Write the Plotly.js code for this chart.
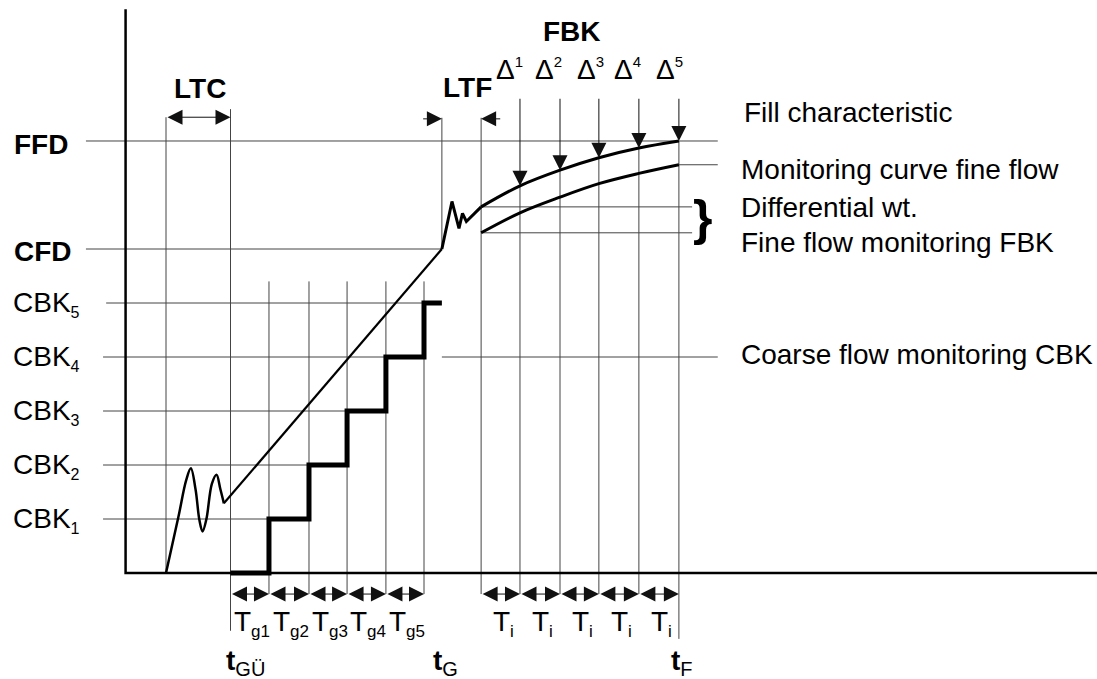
<!DOCTYPE html>
<html>
<head>
<meta charset="utf-8">
<script src="https://cdn.plot.ly/plotly-3.0.1.min.js"></script>
<style>html,body{margin:0;padding:0;background:#fff;}#chart{width:1097px;height:679px;}</style>
</head>
<body>
<div id="chart"></div>
<script>
// ---- data (x: time units, y: weight units, CBK step = 1) ----
const cbkLevels = [1, 2, 3, 4, 5];
const cbkSubs = ['1', '2', '3', '4', '5'];
const CFD = 6;
const FFD = 8;
const fillStart = 1.04;                 // start of filling
const coarseTimes = [2.70, 3.69, 4.72, 5.70, 6.70, 7.68]; // tGÜ and coarse check times
const tG = 8.14;
const fineTimes = [9.15, 10.15, 11.18, 12.18, 13.21, 14.24]; // fine check times, last = tF
const fillCurve = [6.78, 7.17, 7.46, 7.69, 7.87, 8.00];
const monitorCurve = [6.30, 6.67, 6.96, 7.21, 7.40, 7.56];
const coarseSettleX = [1.04, 1.36, 1.56, 1.68, 1.80, 1.90, 1.98, 2.08, 2.22, 2.34, 2.44, 2.53];
const coarseSettleY = [0, 1.04, 1.72, 1.94, 1.55, 0.98, 0.77, 1.00, 1.65, 1.82, 1.55, 1.29];
const fineSettleX = [8.14, 8.40, 8.58, 8.67, 8.77, 9.15];
const fineSettleY = [6.00, 6.88, 6.38, 6.66, 6.51, 6.78];
const tgSubs = ['g1', 'g2', 'g3', 'g4', 'g5'];
const tiSub = 'i';
const deltaSups = ['1', '2', '3', '4', '5'];
const deltaX = [9.48, 10.49, 11.57, 12.52, 13.60];
const rightLabels = ['Fill characteristic', 'Monitoring curve fine flow', 'Differential wt.', 'Fine flow monitoring FBK', 'Coarse flow monitoring CBK'];
const rightLabelY = [8.53, 7.48, 6.77, 6.12, 4.04];

// ---- layout constants ----
const FONT = 'Liberation Sans, Arial, sans-serif';
const xLeft = -1.02, xRight = 15.24, xBrace = 14.58;
const arrowY = 8.44, dimY = -0.39, deltaTop = 8.81;
function sub(s, px) { return '<sub><span style="font-size:' + (px || 17) + 'px">' + s + '</span></sub>'; }
function sup(s, px) { return '<sup><span style="font-size:' + (px || 16) + 'px">' + s + '</span></sup>'; }

const thinX = [], thinY = [];
function seg(x0, y0, x1, y1) { thinX.push(x0, x1, null); thinY.push(y0, y1, null); }

// horizontal reference lines
seg(xLeft, FFD, xRight, FFD);
seg(xLeft, CFD, tG, CFD);
cbkLevels.forEach((k, i) => seg(k === 5 ? -0.50 : -0.58, k, coarseTimes[i + 1], k));
seg(tG, 4, xRight, 4);
seg(fineTimes[0], fillCurve[0], xBrace, fillCurve[0]);
seg(fineTimes[0], monitorCurve[0], xBrace, monitorCurve[0]);
seg(fineTimes[5], monitorCurve[5], xRight, monitorCurve[5]);
// vertical lines
seg(fillStart, 0, fillStart, arrowY);
seg(coarseTimes[0], -1.07, coarseTimes[0], 8.59);
for (let i = 1; i < coarseTimes.length; i++) seg(coarseTimes[i], dimY, coarseTimes[i], 5.4);
seg(tG, CFD, tG, 8.43);
seg(fineTimes[0], dimY, fineTimes[0], 8.43);
for (let i = 1; i < fineTimes.length - 1; i++) seg(fineTimes[i], dimY, fineTimes[i], fillCurve[i]);
seg(fineTimes[5], -1.22, fineTimes[5], fillCurve[5]);

const black = '#000';
const traces = [
  {x: thinX, y: thinY, mode: 'lines', line: {color: '#444', width: 1}, hoverinfo: 'skip'},
  // axes
  {x: [0, 0, 25], y: [10.44, 0, 0], mode: 'lines', line: {color: black, width: 2.5}, hoverinfo: 'skip'},
  // coarse settling
  {x: coarseSettleX, y: coarseSettleY, mode: 'lines', line: {color: black, width: 2.5, shape: 'spline', smoothing: 1}, hoverinfo: 'skip'},
  {x: [coarseSettleX[coarseSettleX.length - 1], tG], y: [coarseSettleY[coarseSettleY.length - 1], CFD], mode: 'lines', line: {color: black, width: 2.2}, hoverinfo: 'skip'},
  // fine settling
  {x: fineSettleX, y: fineSettleY, mode: 'lines', line: {color: black, width: 3}, hoverinfo: 'skip'},
  // fill characteristic & monitoring curve
  {x: fineTimes, y: fillCurve, mode: 'lines', line: {color: black, width: 3, shape: 'spline', smoothing: 1}, hoverinfo: 'skip'},
  {x: fineTimes, y: monitorCurve, mode: 'lines', line: {color: black, width: 3, shape: 'spline', smoothing: 1}, hoverinfo: 'skip'},
  // coarse-flow staircase
  {x: coarseTimes.concat([tG]), y: [0].concat(cbkLevels, [5]), mode: 'lines', line: {color: black, width: 5, shape: 'hv'}, hoverinfo: 'skip'}
];

const ann = [];
function txt(x, y, text, size, xanchor, bold, yanchor) {
  ann.push({x: x, y: y, xref: 'x', yref: 'y', text: bold ? '<b>' + text + '</b>' : text, showarrow: false,
    xanchor: xanchor || 'center', yanchor: yanchor || 'middle', font: {family: FONT, size: size || 28, color: black}});
}
function arrow(x0, y0, x1, y1, both) {
  ann.push({x: x1, y: y1, ax: x0, ay: y0, xref: 'x', yref: 'y', axref: 'x', ayref: 'y', text: '', showarrow: true,
    arrowhead: 2, arrowsize: 3, arrowwidth: 1, arrowcolor: '#111', arrowside: both ? 'end+start' : 'end',
    startarrowhead: 2, startarrowsize: 3, standoff: 0, startstandoff: 0});
}

// left labels
txt(-2.93, 7.93, 'FFD', 28, 'left', true);
txt(-2.93, 5.96, 'CFD', 28, 'left', true);
cbkLevels.forEach((k, i) => txt(-2.95, k - 0.02, 'CBK' + sub(cbkSubs[i], 16), 28, 'left'));
// top labels
txt(1.91, 8.98, 'LTC', 28, 'center', true);
txt(8.81, 8.99, 'LTF', 28, 'center', true);
txt(11.49, 10.02, 'FBK', 28, 'center', true);
deltaSups.forEach((d, i) => txt(deltaX[i], 9.33, 'Δ' + sup(d, 15), 28, 'left'));
// right labels
rightLabels.forEach((t, i) => txt(i === 0 ? 15.86 : 15.78, rightLabelY[i], t, 28, 'left'));
txt(14.86, 6.58, '<b>}</b>', 50, 'center');
// bottom labels
for (let i = 0; i < 5; i++) txt((coarseTimes[i] + coarseTimes[i + 1]) / 2 + 0.05, -0.94, 'T' + sub(tgSubs[i], 17), 28, 'center');
for (let i = 0; i < 5; i++) txt((fineTimes[i] + fineTimes[i + 1]) / 2 + 0.07, -0.94, 'T' + sub(tiSub, 17), 28, 'center');
txt(3.08, -1.66, '<b>t</b>' + sub('GÜ', 20), 28, 'center');
txt(8.23, -1.66, '<b>t</b>' + sub('G', 20), 28, 'center');
txt(14.32, -1.66, '<b>t</b>' + sub('F', 20), 28, 'center');

// dimension arrows
arrow(fillStart, arrowY, coarseTimes[0], arrowY, true);
arrow(7.62, 8.41, tG, 8.41, false);
arrow(9.68, 8.41, fineTimes[0], 8.41, false);
for (let i = 0; i < 5; i++) arrow(coarseTimes[i], dimY, coarseTimes[i + 1], dimY, true);
for (let i = 0; i < 5; i++) arrow(fineTimes[i], dimY, fineTimes[i + 1], dimY, true);
for (let i = 1; i < 6; i++) arrow(fineTimes[i], deltaTop, fineTimes[i], fillCurve[i], false);

const layout = {
  width: 1097, height: 679, autosize: false,
  margin: {l: 0, r: 0, t: 0, b: 0, pad: 0},
  paper_bgcolor: '#fff', plot_bgcolor: '#fff', showlegend: false,
  xaxis: {range: [-3.232, 25], visible: false, fixedrange: true},
  yaxis: {range: [-1.963, 10.611], visible: false, fixedrange: true},
  annotations: ann,
  font: {family: FONT}
};
Plotly.newPlot('chart', traces, layout, {displayModeBar: false, staticPlot: true});
</script>
</body>
</html>
